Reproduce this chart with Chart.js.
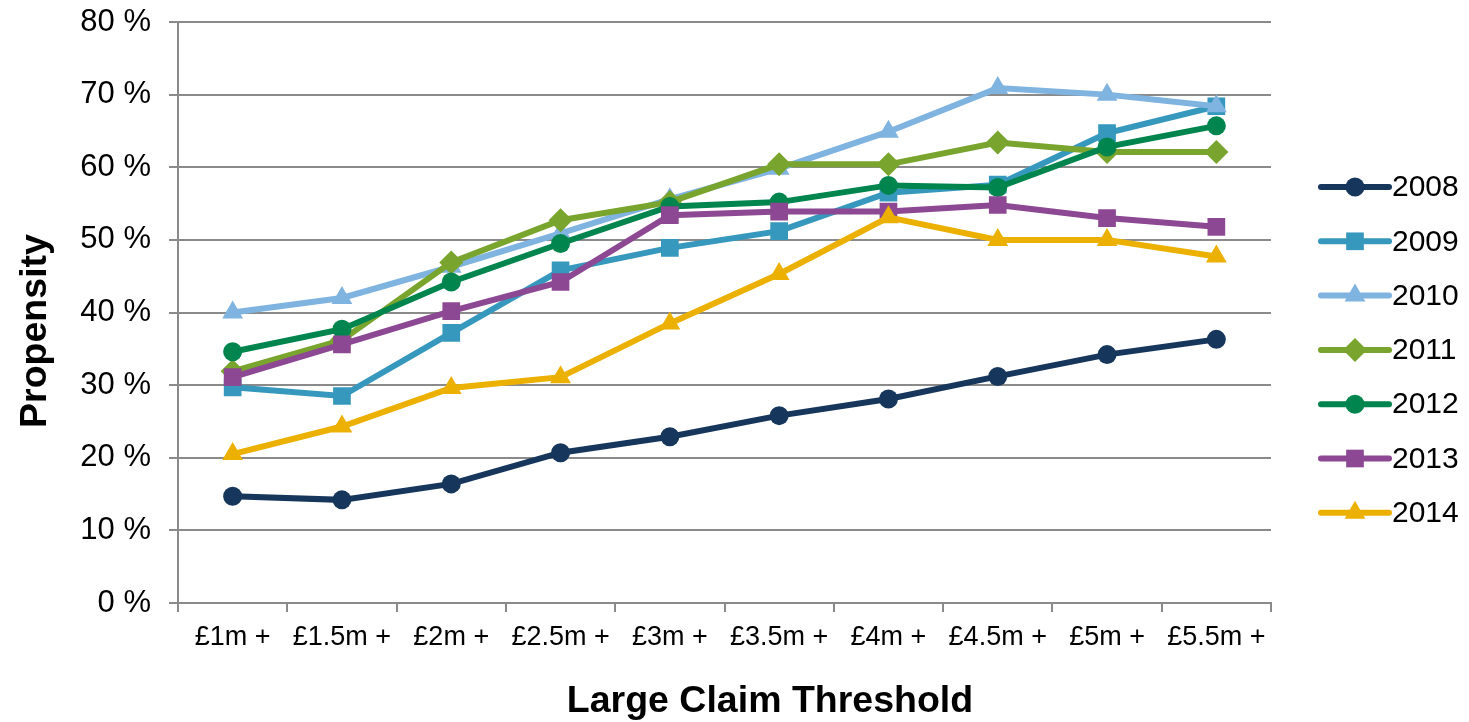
<!DOCTYPE html>
<html>
<head>
<meta charset="utf-8">
<title>Propensity by large claim threshold</title>
<script src="https://cdn.jsdelivr.net/npm/chart.js@4/dist/chart.umd.min.js"></script>
<style>
    html, body { margin: 0; padding: 0; background: #fff; }
    #wrap { width: 1469px; height: 722px; position: relative; }
</style>
</head>
<body>
<div id="wrap"><canvas id="chart"></canvas></div>
<script>
// categories and values
const thresholds = ['£1m +', '£1.5m +', '£2m +', '£2.5m +', '£3m +', '£3.5m +', '£4m +', '£4.5m +', '£5m +', '£5.5m +'];
const years = ['2008', '2009', '2010', '2011', '2012', '2013', '2014'];
const yTickLabels = ['0 %', '10 %', '20 %', '30 %', '40 %', '50 %', '60 %', '70 %', '80 %'];

const y2008 = [14.7, 14.2, 16.4, 20.7, 22.9, 25.8, 28.1, 31.2, 34.2, 36.3];
const y2009 = [29.7, 28.5, 37.2, 45.8, 48.9, 51.2, 56.5, 57.6, 64.7, 68.4];
const y2010 = [40.0, 42.0, 46.3, 50.9, 55.6, 59.8, 64.9, 70.9, 70.0, 68.4];
const y2011 = [31.9, 36.2, 46.9, 52.7, 55.2, 60.4, 60.4, 63.4, 62.1, 62.1];
const y2012 = [34.6, 37.7, 44.2, 49.5, 54.6, 55.2, 57.5, 57.2, 62.8, 65.7];
const y2013 = [31.1, 35.6, 40.2, 44.2, 53.4, 53.9, 53.9, 54.8, 53.0, 51.8];
const y2014 = [20.5, 24.3, 29.6, 31.1, 38.5, 45.3, 53.1, 50.0, 50.0, 47.7];

const seriesValues = [y2008, y2009, y2010, y2011, y2012, y2013, y2014];

// styling
const colors = ['#16365c', '#3698bd', '#7fb3e0', '#79a42e', '#00854e', '#8c4892', '#ecb100'];
const markers = ['circle', 'rect', 'triangle', 'rectRot', 'circle', 'rect', 'triangle'];
const markerRadius = { circle: 9.5, rect: 12.5, triangle: 12, rectRot: 12 };
const axisGrey = '#8a8a8a';
const fontFamily = "'Liberation Sans', Arial, Helvetica, sans-serif";

function drawMarker(ctx, style, x, y, r) {
    ctx.beginPath();
    if (style === 'circle') {
        ctx.arc(x, y, r, 0, Math.PI * 2);
    } else if (style === 'rect') {
        const s = r * Math.SQRT1_2;
        ctx.rect(x - s, y - s, 2 * s, 2 * s);
    } else if (style === 'rectRot') {
        ctx.moveTo(x, y - r);
        ctx.lineTo(x + r, y);
        ctx.lineTo(x, y + r);
        ctx.lineTo(x - r, y);
        ctx.closePath();
    } else {
        let a = 0;
        ctx.moveTo(x + Math.sin(a) * r, y - Math.cos(a) * r);
        a += Math.PI * 2 / 3;
        ctx.lineTo(x + Math.sin(a) * r, y - Math.cos(a) * r);
        a += Math.PI * 2 / 3;
        ctx.lineTo(x + Math.sin(a) * r, y - Math.cos(a) * r);
        ctx.closePath();
    }
    ctx.fill();
}

// legend with line + marker, and the two axis titles
const extras = {
    id: 'extras',
    afterDraw(chart) {
        const ctx = chart.ctx;
        const area = chart.chartArea;
        ctx.save();

        const lx = area.right + 50;
        const lineLen = 68;
        chart.data.datasets.forEach((ds, i) => {
            const y = 187 + i * 54.3;
            ctx.strokeStyle = ds.borderColor;
            ctx.fillStyle = ds.borderColor;
            ctx.lineWidth = 6;
            ctx.lineCap = 'round';
            ctx.beginPath();
            ctx.moveTo(lx, y);
            ctx.lineTo(lx + lineLen, y);
            ctx.stroke();
            drawMarker(ctx, ds.pointStyle, lx + lineLen / 2, y, ds.pointRadius);
            ctx.fillStyle = '#000';
            ctx.font = '30px ' + fontFamily;
            ctx.textBaseline = 'middle';
            ctx.textAlign = 'left';
            ctx.fillText(ds.label, lx + lineLen + 3, y + 1);
        });

        ctx.fillStyle = '#000';
        ctx.font = 'bold 37.5px ' + fontFamily;
        ctx.textAlign = 'center';
        ctx.textBaseline = 'middle';
        ctx.fillText('Large Claim Threshold', 770, 702);

        ctx.translate(36, 331);
        ctx.rotate(-Math.PI / 2);
        ctx.fillText('Propensity', 0, 0);
        ctx.restore();
    }
};

const datasets = years.map((year, i) => ({
    label: year,
    data: seriesValues[i],
    borderColor: colors[i],
    backgroundColor: colors[i],
    pointBackgroundColor: colors[i],
    pointBorderColor: colors[i],
    pointBorderWidth: 0,
    borderWidth: 6,
    pointStyle: markers[i],
    pointRadius: markerRadius[markers[i]],
    pointHoverRadius: markerRadius[markers[i]],
    tension: 0,
    fill: false,
    order: years.length - i
}));

new Chart(document.getElementById('chart'), {
    type: 'line',
    data: { labels: thresholds, datasets: datasets },
    plugins: [extras],
    options: {
        responsive: true,
        maintainAspectRatio: false,
        animation: false,
        layout: { padding: { top: 22, right: 198, bottom: 0, left: 0 } },
        plugins: {
            legend: { display: false },
            tooltip: { enabled: false }
        },
        scales: {
            x: {
                offset: true,
                grid: {
                    offset: true,
                    drawOnChartArea: false,
                    drawTicks: true,
                    tickLength: 9,
                    color: axisGrey,
                    lineWidth: 2
                },
                border: { display: true, color: axisGrey, width: 2 },
                ticks: {
                    color: '#000',
                    font: { size: 27, family: fontFamily },
                    padding: 9,
                    maxRotation: 0,
                    autoSkip: false
                },
                afterFit(scale) {
                    scale.height = 119;
                    scale.paddingLeft = 0;
                    scale.paddingRight = 0;
                }
            },
            y: {
                min: 0,
                max: 80,
                grid: {
                    color: axisGrey,
                    lineWidth: 2,
                    drawTicks: true,
                    tickLength: 9
                },
                border: { display: true, color: axisGrey, width: 2 },
                ticks: {
                    stepSize: 10,
                    color: '#000',
                    font: { size: 31, family: fontFamily },
                    padding: 18,
                    callback: (value, index) => yTickLabels[index]
                },
                afterFit(scale) {
                    scale.width = 178;
                    scale.paddingTop = 0;
                    scale.paddingBottom = 0;
                }
            }
        }
    }
});
</script>
</body>
</html>
